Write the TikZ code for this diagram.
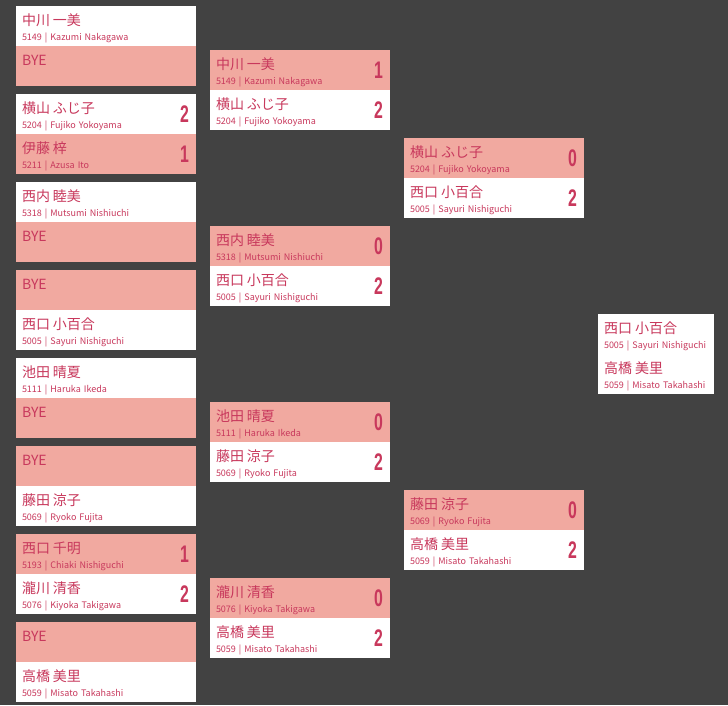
\documentclass[tikz,border=0pt]{standalone}
\usepackage{fontspec}
\setmainfont{Noto Sans CJK JP}
\newfontfamily\scorefont[FakeStretch=0.66]{Liberation Sans}
\usetikzlibrary{positioning}
\definecolor{bgdark}{HTML}{424242}
\definecolor{losepink}{HTML}{F1A9A0}
\definecolor{namered}{HTML}{C8385C}
\newcommand{\plname}[1]{{\fontsize{14}{17}\selectfont\rule{0pt}{16pt}#1}}

\begin{document}
\begin{tikzpicture}[
    x=1pt, y=-1pt,
    slot/.style={anchor=north west, minimum width=180pt, minimum height=40pt, text width=168pt,
        inner xsep=6pt, inner ysep=0pt, outer sep=0pt, align=left, text=namered,
        font=\fontsize{9}{11}\selectfont},
    win/.style={slot, fill=white},
    lose/.style={slot, fill=losepink},
    fin/.style={win, minimum width=116pt, text width=104pt},
    score/.style={inner sep=0pt, outer sep=0pt, text=namered,
        font=\scorefont\bfseries\fontsize{24}{24}\selectfont}
]

\fill[bgdark] (0,0) rectangle (728,705);

% round 1
\node (r1m1a) [win] at (16,6) {\plname{中川 一美}\\[4pt]5149 | Kazumi Nakagawa};
\node (r1m1b) [lose, below=0pt of r1m1a] {\plname{BYE}\\[4pt]\phantom{Kg}};

\node (r1m2a) [win] at (16,94) {\plname{横山 ふじ子}\\[4pt]5204 | Fujiko Yokoyama};
\node (r1m2b) [lose, below=0pt of r1m2a] {\plname{伊藤 梓}\\[4pt]5211 | Azusa Ito};
\node (s1m2a) [score, left=7pt of r1m2a.east] {2};
\node (s1m2b) [score, left=7pt of r1m2b.east] {1};

\node (r1m3a) [win] at (16,182) {\plname{西内 睦美}\\[4pt]5318 | Mutsumi Nishiuchi};
\node (r1m3b) [lose, below=0pt of r1m3a] {\plname{BYE}\\[4pt]\phantom{Kg}};

\node (r1m4a) [lose] at (16,270) {\plname{BYE}\\[4pt]\phantom{Kg}};
\node (r1m4b) [win, below=0pt of r1m4a] {\plname{西口 小百合}\\[4pt]5005 | Sayuri Nishiguchi};

\node (r1m5a) [win] at (16,358) {\plname{池田 晴夏}\\[4pt]5111 | Haruka Ikeda};
\node (r1m5b) [lose, below=0pt of r1m5a] {\plname{BYE}\\[4pt]\phantom{Kg}};

\node (r1m6a) [lose] at (16,446) {\plname{BYE}\\[4pt]\phantom{Kg}};
\node (r1m6b) [win, below=0pt of r1m6a] {\plname{藤田 涼子}\\[4pt]5069 | Ryoko Fujita};

\node (r1m7a) [lose] at (16,534) {\plname{西口 千明}\\[4pt]5193 | Chiaki Nishiguchi};
\node (r1m7b) [win, below=0pt of r1m7a] {\plname{瀧川 清香}\\[4pt]5076 | Kiyoka Takigawa};
\node (s1m7a) [score, left=7pt of r1m7a.east] {1};
\node (s1m7b) [score, left=7pt of r1m7b.east] {2};

\node (r1m8a) [lose] at (16,622) {\plname{BYE}\\[4pt]\phantom{Kg}};
\node (r1m8b) [win, below=0pt of r1m8a] {\plname{高橋 美里}\\[4pt]5059 | Misato Takahashi};

% round 2
\node (r2m1a) [lose] at (210,50) {\plname{中川 一美}\\[4pt]5149 | Kazumi Nakagawa};
\node (r2m1b) [win, below=0pt of r2m1a] {\plname{横山 ふじ子}\\[4pt]5204 | Fujiko Yokoyama};
\node (s2m1a) [score, left=7pt of r2m1a.east] {1};
\node (s2m1b) [score, left=7pt of r2m1b.east] {2};

\node (r2m2a) [lose] at (210,226) {\plname{西内 睦美}\\[4pt]5318 | Mutsumi Nishiuchi};
\node (r2m2b) [win, below=0pt of r2m2a] {\plname{西口 小百合}\\[4pt]5005 | Sayuri Nishiguchi};
\node (s2m2a) [score, left=7pt of r2m2a.east] {0};
\node (s2m2b) [score, left=7pt of r2m2b.east] {2};

\node (r2m3a) [lose] at (210,402) {\plname{池田 晴夏}\\[4pt]5111 | Haruka Ikeda};
\node (r2m3b) [win, below=0pt of r2m3a] {\plname{藤田 涼子}\\[4pt]5069 | Ryoko Fujita};
\node (s2m3a) [score, left=7pt of r2m3a.east] {0};
\node (s2m3b) [score, left=7pt of r2m3b.east] {2};

\node (r2m4a) [lose] at (210,578) {\plname{瀧川 清香}\\[4pt]5076 | Kiyoka Takigawa};
\node (r2m4b) [win, below=0pt of r2m4a] {\plname{高橋 美里}\\[4pt]5059 | Misato Takahashi};
\node (s2m4a) [score, left=7pt of r2m4a.east] {0};
\node (s2m4b) [score, left=7pt of r2m4b.east] {2};

% round 3
\node (r3m1a) [lose] at (404,138) {\plname{横山 ふじ子}\\[4pt]5204 | Fujiko Yokoyama};
\node (r3m1b) [win, below=0pt of r3m1a] {\plname{西口 小百合}\\[4pt]5005 | Sayuri Nishiguchi};
\node (s3m1a) [score, left=7pt of r3m1a.east] {0};
\node (s3m1b) [score, left=7pt of r3m1b.east] {2};

\node (r3m2a) [lose] at (404,490) {\plname{藤田 涼子}\\[4pt]5069 | Ryoko Fujita};
\node (r3m2b) [win, below=0pt of r3m2a] {\plname{高橋 美里}\\[4pt]5059 | Misato Takahashi};
\node (s3m2a) [score, left=7pt of r3m2a.east] {0};
\node (s3m2b) [score, left=7pt of r3m2b.east] {2};

% final
\node (r4a) [fin] at (598,314) {\plname{西口 小百合}\\[4pt]5005 | Sayuri Nishiguchi};
\node (r4b) [fin, below=0pt of r4a] {\plname{高橋 美里}\\[4pt]5059 | Misato Takahashi};

\end{tikzpicture}
\end{document}
